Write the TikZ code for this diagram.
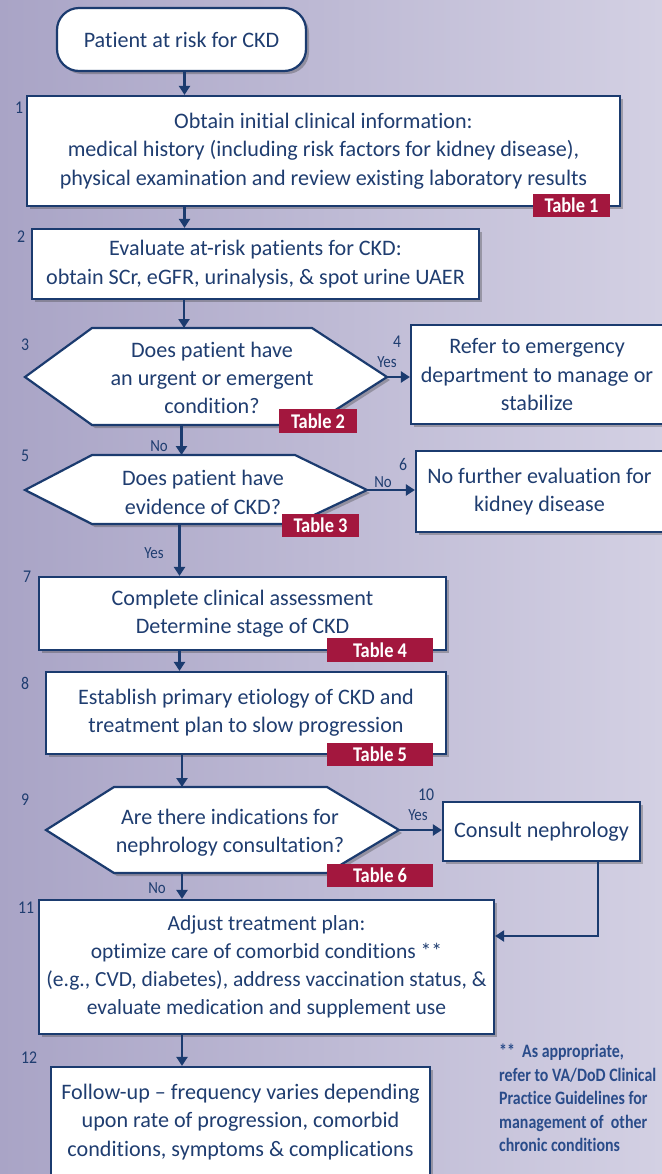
\documentclass[tikz,border=0pt]{standalone}
\usepackage{fontspec}
\setmainfont{Carlito}[Ligatures=NoCommon]
\newfontfamily\narrowfont[FakeStretch=0.88,Ligatures=NoCommon]{Carlito}
\newfontfamily\notefont[FakeStretch=0.84,Ligatures=NoCommon]{Carlito}
\usetikzlibrary{arrows.meta,shadows}
\definecolor{navy}{HTML}{1B3B6F}
\definecolor{navytext}{HTML}{1F3D70}
\definecolor{badge}{HTML}{A3173E}
\definecolor{bgleft}{HTML}{A9A4C6}
\definecolor{bgright}{HTML}{D3D0E3}
\definecolor{notecol}{HTML}{2A4C8A}
\begin{document}
\begin{tikzpicture}[x=1bp,y=-1bp,
  shadowed/.style={drop shadow={shadow xshift=3bp, shadow yshift=-3bp, opacity=0.35, fill=black!75}},
  flowbox/.style={draw=navy, line width=2.2bp, fill=white, inner sep=0pt, align=center,
    text=navytext, font=\fontsize{22.2}{28.5}\selectfont, shadowed},
  startbox/.style={flowbox, rounded corners=22bp},
  hexshape/.style={draw=navy, line width=2.2bp, fill=white, line join=miter, shadowed},
  hextext/.style={inner sep=0pt, align=center, text=navytext, font=\fontsize{22.2}{28.5}\selectfont},
  tablebadge/.style={fill=badge, text=white, inner sep=0pt,
    font=\narrowfont\bfseries\fontsize{21}{21}\selectfont},
  numlabel/.style={text=navytext, inner sep=0pt, font=\narrowfont\fontsize{18}{18}\selectfont},
  yesno/.style={text=navytext, inner sep=0pt, font=\narrowfont\fontsize{17}{17}\selectfont},
  arr/.style={draw=navy, line width=2.2bp, -{Triangle[width=11bp,length=9bp]}},
  notetext/.style={text=notecol, inner sep=0pt, align=left,
    font=\notefont\bfseries\fontsize{19}{23.6}\selectfont}
]
% background
\shade[left color=bgleft, right color=bgright] (0,0) rectangle (662,1174);
\useasboundingbox (0,0) rectangle (662,1174);

% boxes
\node[startbox, minimum width=249bp, minimum height=63bp] (start) at (181.5,39.5) {Patient at risk for CKD};
\node[flowbox, minimum width=593bp, minimum height=110bp] (box1) at (323.5,151) {Obtain initial clinical information:\\ medical history (including risk factors for kidney disease),\\ physical examination and review existing laboratory results};
\node[flowbox, minimum width=447bp, minimum height=70bp] (box2) at (255.5,264) {Evaluate at-risk patients for CKD:\\ obtain SCr, eGFR, urinalysis, \& spot urine UAER};

% hexagon 3
\coordinate (h3L) at (25,377); \coordinate (h3TL) at (92,328); \coordinate (h3TR) at (312,328);
\coordinate (h3R) at (387,377); \coordinate (h3BR) at (312,425); \coordinate (h3BL) at (92,425);
\draw[hexshape] (h3L) -- (h3TL) -- (h3TR) -- (h3R) -- (h3BR) -- (h3BL) -- cycle;
\node[hextext] (q3) at (212,378) {Does patient have\\ an urgent or emergent\\ condition?};

\node[flowbox, minimum width=252bp, minimum height=99bp] (box4) at (537,374.5) {Refer to emergency\\ department to manage or\\ stabilize};

% hexagon 5
\coordinate (h5L) at (25,490); \coordinate (h5TL) at (92,455); \coordinate (h5TR) at (295,455);
\coordinate (h5R) at (367,490); \coordinate (h5BR) at (295,524); \coordinate (h5BL) at (92,524);
\draw[hexshape] (h5L) -- (h5TL) -- (h5TR) -- (h5R) -- (h5BR) -- (h5BL) -- cycle;
\node[hextext] (q5) at (203,492.5) {Does patient have\\ evidence of CKD?};

\node[flowbox, minimum width=247bp, minimum height=81bp] (box6) at (539.5,491.5) {No further evaluation for\\ kidney disease};

\node[flowbox, minimum width=407bp, minimum height=73bp] (box7) at (242.5,613.5) {Complete clinical assessment\\ Determine stage of CKD};
\node[flowbox, minimum width=400bp, minimum height=82bp] (box8) at (246,713) {Establish primary etiology of CKD and\\ treatment plan to slow progression};

% hexagon 9
\coordinate (h9L) at (46,830); \coordinate (h9TL) at (114,787); \coordinate (h9TR) at (327,787);
\coordinate (h9R) at (399,830); \coordinate (h9BR) at (327,873); \coordinate (h9BL) at (114,873);
\draw[hexshape] (h9L) -- (h9TL) -- (h9TR) -- (h9R) -- (h9BR) -- (h9BL) -- cycle;
\node[hextext] (q9) at (230,832.5) {Are there indications for\\ nephrology consultation?};

\node[flowbox, minimum width=197bp, minimum height=59bp] (box10) at (541.5,831.5) {Consult nephrology};
\node[flowbox, minimum width=455bp, minimum height=134bp, font=\fontsize{21.6}{28.2}\selectfont] (box11) at (266.5,967) {Adjust treatment plan:\\ optimize care of comorbid conditions **\\ (e.g., CVD, diabetes), address vaccination status, \&\\ evaluate medication and supplement use};
\node[flowbox, minimum width=379bp, minimum height=110bp] (box12) at (240.5,1122) {Follow-up – frequency varies depending\\ upon rate of progression, comorbid\\ conditions, symptoms \& complications};

% table badges
\node[tablebadge, minimum width=77bp, minimum height=23bp] (t1) at (571.5,205.5) {Table 1};
\node[tablebadge, minimum width=78bp, minimum height=24bp] (t2) at (318,421) {Table 2};
\node[tablebadge, minimum width=77bp, minimum height=23bp] (t3) at (320.5,525.5) {Table 3};
\node[tablebadge, minimum width=106bp, minimum height=24bp] (t4) at (380,650) {Table 4};
\node[tablebadge, minimum width=106bp, minimum height=23bp] (t5) at (380,754.5) {Table 5};
\node[tablebadge, minimum width=106bp, minimum height=23bp] (t6) at (380,875.5) {Table 6};

% arrow columns
\coordinate (c1) at (184.5,0);
\coordinate (c2) at (184.5,0);
\coordinate (c3) at (184,0);
\coordinate (c4) at (181.5,0);
\coordinate (c5) at (179.5,0);
\coordinate (c6) at (179.5,0);
\coordinate (c7) at (182,0);
\coordinate (c8) at (182,0);
\coordinate (c9) at (182,0);

\draw[arr] (start.south -| c1) -- (box1.north -| c1);
\draw[arr] (box1.south -| c2) -- (box2.north -| c2);
\draw[arr] (box2.south -| c3) -- (c3 |- h3TL);
\draw[arr] (c4 |- h3BL) -- (c4 |- h5TL);
\draw[arr] (c5 |- h5BL) -- (box7.north -| c5);
\draw[arr] (box7.south -| c6) -- (box8.north -| c6);
\draw[arr] (box8.south -| c7) -- (c7 |- h9TL);
\draw[arr] (c8 |- h9BL) -- (box11.north -| c8);
\draw[arr] (box11.south -| c9) -- (box12.north -| c9);
\draw[arr] (h3R) -- (box4.west |- h3R);
\draw[arr] (h5R) -- (box6.west |- h5R);
\draw[arr] (h9R) -- (box10.west |- h9R);
\coordinate (c10) at (598,936);
\draw[arr] (box10.south -| c10) -- (c10) -- (box11.east |- c10);

% yes/no labels
\node[yesno] (y3) at (387,362) {Yes};
\node[yesno] (n3) at (159,446) {No};
\node[yesno] (n5) at (383,482) {No};
\node[yesno] (y5) at (154,553) {Yes};
\node[yesno] (y9) at (418,815) {Yes};
\node[yesno] (n9) at (157,888) {No};

% step numbers
\node[numlabel] (n1) at (19,108) {1};
\node[numlabel] (n2) at (21,237) {2};
\node[numlabel] (nn3) at (25,345) {3};
\node[numlabel] (nn4) at (397,342) {4};
\node[numlabel] (nn5) at (25,456) {5};
\node[numlabel] (nn6) at (403,465) {6};
\node[numlabel] (nn7) at (27,577) {7};
\node[numlabel] (nn8) at (25,683) {8};
\node[numlabel] (nn9) at (25,800) {9};
\node[numlabel] (nn10) at (426,795) {10};
\node[numlabel] (nn11) at (26,908) {11};
\node[numlabel] (nn12) at (29,1058) {12};

% footnote
\node[notetext, anchor=north west] (note) at (499,1044) {**\ \ As appropriate,\\ refer to VA/DoD Clinical\\ Practice Guidelines for\\ management of\ \ other\\ chronic conditions};
\end{tikzpicture}
\end{document}
